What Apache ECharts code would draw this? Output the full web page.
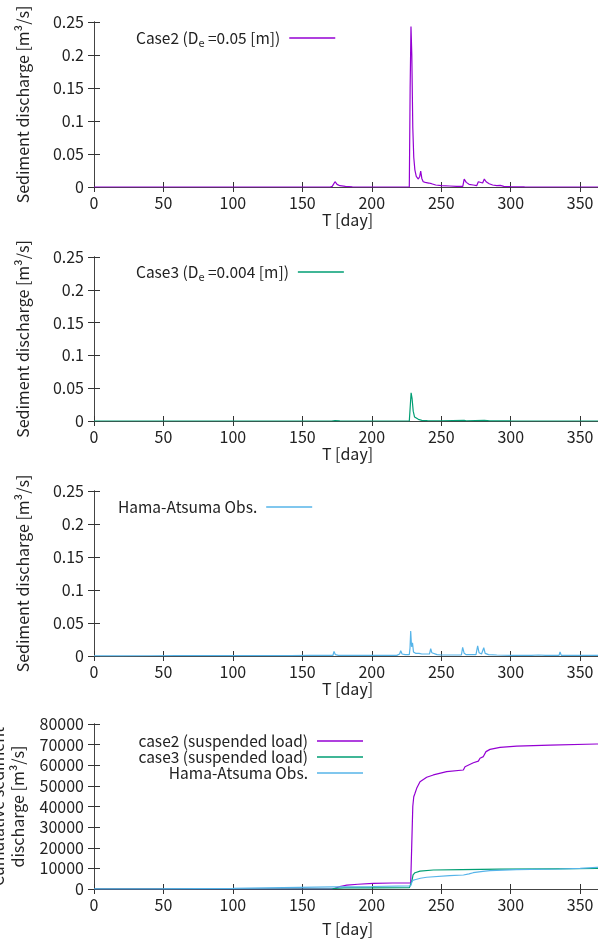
<!DOCTYPE html>
<html>
<head>
<meta charset="utf-8">
<script src="https://cdn.jsdelivr.net/npm/echarts@6/dist/echarts.min.js"></script>
<style>
  html, body { margin: 0; padding: 0; overflow: hidden; background: #fff; }
  #chart { width: 610px; height: 939px; }
</style>
</head>
<body>
<div id="chart"></div>
<script>
// sediment discharge [m3/s] vs day
var case2Flux = [
  [0, 0], [170, 0], [171.5, 0.001], [173.5, 0.008], [175, 0.004], [177, 0.002], [181, 0.001], [186, 0.0003],
  [227, 0], [227.6, 0.15], [228.2, 0.243], [228.8, 0.2], [229.5, 0.09], [230.2, 0.045], [231, 0.026],
  [232, 0.016], [233.5, 0.012], [234.5, 0.016], [235.2, 0.024], [236, 0.013], [237, 0.008], [238.5, 0.007],
  [239.5, 0.008], [241, 0.006], [243, 0.005], [246, 0.003], [250, 0.002], [256, 0.0015], [261, 0.001],
  [265.5, 0.001], [266.5, 0.012], [268, 0.007], [270, 0.004], [273, 0.003], [275.5, 0.002], [276.7, 0.008],
  [278, 0.005], [279.8, 0.006], [281, 0.012], [282.3, 0.008], [284.5, 0.005], [287, 0.003], [290, 0.002],
  [292.5, 0.0025], [295, 0.001], [300, 0.0005], [310, 0.0003], [365, 0]
];
var case3Flux = [
  [0, 0], [171, 0], [173.5, 0.0006], [177, 0.0002], [227, 0], [227.6, 0.02], [228.3, 0.043], [229, 0.034],
  [229.8, 0.015], [230.8, 0.006], [232, 0.003], [233.5, 0.0025], [236, 0.001], [240, 0.0007], [250, 0.0004],
  [266.5, 0.001], [268, 0.0004], [281, 0.001], [285, 0.0003], [300, 0.0001], [365, 0]
];
var obsFlux = [
  [0, 0.0003], [20, 0.0003], [40, 0.0004], [60, 0.0005], [80, 0.0005], [99, 0.0006], [100, 0.0015],
  [101, 0.0006], [120, 0.0006], [140, 0.0007], [141, 0.0015], [142, 0.0007], [155, 0.0008], [156, 0.0015],
  [157, 0.0008], [172, 0.0008], [172.8, 0.007], [173.8, 0.002], [176, 0.001], [200, 0.001], [218, 0.001],
  [219, 0.004], [220, 0.003], [220.8, 0.008], [221.8, 0.003], [224, 0.002], [227, 0.002], [227.5, 0.012],
  [228, 0.038], [228.6, 0.014], [229.3, 0.02], [230, 0.006], [231.5, 0.004], [234, 0.004], [235, 0.005],
  [236, 0.003], [241.5, 0.003], [242.4, 0.011], [243.2, 0.005], [243.8, 0.008], [244.6, 0.003], [247, 0.002],
  [250, 0.0015], [257, 0.0015], [258, 0.003], [259, 0.0015], [264.5, 0.0015], [265.4, 0.013], [266.5, 0.004],
  [268, 0.002], [275, 0.002], [276.2, 0.0155], [277.2, 0.005], [279, 0.003], [280, 0.003], [280.6, 0.0125],
  [281.6, 0.004], [284, 0.002], [290, 0.0015], [301, 0.001], [301.9, 0.004], [302.8, 0.001], [315, 0.001],
  [320, 0.0015], [325, 0.001], [334.8, 0.001], [335.5, 0.006], [336.4, 0.001], [345.5, 0.001], [346.3, 0.002],
  [347.2, 0.001], [355, 0.001], [365, 0.0008]
];
// cumulative sediment discharge
var case2Cum = [
  [0, 0], [172, 0], [173.5, 300], [177, 1200], [182, 1900], [190, 2300], [201, 2700], [215, 2900],
  [228, 3000], [228.7, 20000], [229.5, 40000], [230.2, 44700], [231.1, 46400], [232.3, 48800], [234.7, 52000],
  [239.5, 54200], [244.3, 55300], [253.9, 56900], [265.9, 57700], [267.1, 59300], [268.3, 60000],
  [273.1, 61200], [276.7, 62000], [277.9, 63400], [280.3, 64200], [282.2, 66600], [285.1, 67700],
  [292.3, 68700], [304.3, 69300], [328.3, 69800], [361.9, 70300], [365, 70300]
];
var case3Cum = [
  [0, 0], [171, 0], [173.5, 300], [180, 500], [200, 550], [227, 600], [228.2, 800], [228.9, 4000],
  [229.7, 6800], [231.1, 7900], [234.7, 8700], [244.3, 9200], [265, 9400], [292, 9650], [330, 9800],
  [362, 9950], [365, 9950]
];
var obsCum = [
  [0, 0], [50, 100], [100, 300], [148, 800], [172, 1000], [200, 1200], [228, 1500], [228.7, 3000],
  [229.5, 4200], [231, 4500], [235, 5200], [239.5, 5700], [256, 6500], [266, 6800], [270, 7300],
  [273, 7900], [280, 8500], [285, 8900], [304, 9400], [335, 9700], [350, 10000], [362, 10500], [365, 10600]
];

var seriesNames = [
  'Case2 (D{sub|e} =0.05 [m])',
  'Case3 (D{sub|e} =0.004 [m])',
  'Hama-Atsuma Obs.',
  'case2 (suspended load)',
  'case3 (suspended load)',
  'Hama-Atsuma Obs. '
];
var colors = ['#9400d3', '#009e73', '#56b4e9'];

var font = "'Noto Sans CJK JP', 'Noto Sans', sans-serif";
var panels = [
  { top: 22, height: 165, max: 0.25, interval: 0.05, name: 'Sediment discharge [m\u00b3/s]', nameGap: 61, xNameGap: 24 },
  { top: 257, height: 164, max: 0.25, interval: 0.05, name: 'Sediment discharge [m\u00b3/s]', nameGap: 61, xNameGap: 24 },
  { top: 491, height: 165, max: 0.25, interval: 0.05, name: 'Sediment discharge [m\u00b3/s]', nameGap: 61, xNameGap: 24 },
  { top: 724, height: 165, max: 80000, interval: 10000, name: 'Cumulative sediment\ndischarge [m\u00b3/s]', nameGap: 66, xNameGap: 32 }
];

var myChart = echarts.init(document.getElementById('chart'));

var grid = [], xAxis = [], yAxis = [], i;
var labelStyle = { fontFamily: font, fontSize: 16, color: '#222' };
var tickLine = { color: '#333', width: 1 };
for (i = 0; i < panels.length; i++) {
  var p = panels[i];
  grid.push({ left: 94, width: 507, top: p.top, height: p.height, outerBoundsMode: 'none', containLabel: false });
  xAxis.push({
    type: 'value', gridIndex: i, min: 0, max: 365, interval: 50,
    name: 'T [day]', nameLocation: 'middle', nameGap: p.xNameGap,
    nameTextStyle: labelStyle,
    axisLine: { show: true, lineStyle: { color: '#333' } },
    axisTick: { show: true, inside: true, length: 5, lineStyle: tickLine },
    axisLabel: { fontFamily: font, fontSize: 16, color: '#222', margin: 8, showMaxLabel: false },
    splitLine: { show: false }
  });
  yAxis.push({
    type: 'value', gridIndex: i, min: 0, max: p.max, interval: p.interval,
    name: p.name, nameLocation: 'middle', nameGap: p.nameGap,
    nameTextStyle: { fontFamily: font, fontSize: 16, color: '#222', lineHeight: 20 },
    axisLine: { show: true, lineStyle: { color: '#222' } },
    axisTick: { show: true, inside: true, length: 6, lineStyle: tickLine },
    axisLabel: {
      fontFamily: font, fontSize: 16, color: '#222', margin: 10,
      formatter: function (v) { return String(v); }
    },
    splitLine: { show: false }
  });
}
// mirrored ticks on top / right borders
for (i = 0; i < panels.length; i++) {
  xAxis.push({
    type: 'value', gridIndex: i, position: 'top', min: 0, max: 365, interval: 50,
    axisLine: { show: true, lineStyle: { color: '#444' } },
    axisTick: { show: true, inside: true, length: 5, lineStyle: tickLine },
    axisLabel: { show: false }, splitLine: { show: false }
  });
  yAxis.push({
    type: 'value', gridIndex: i, position: 'right', min: 0, max: panels[i].max, interval: panels[i].interval,
    axisLine: { show: true, lineStyle: { color: '#444' } },
    axisTick: { show: true, inside: true, length: 6, lineStyle: tickLine },
    axisLabel: { show: false }, splitLine: { show: false }
  });
}

function lineSeries(name, idx, data, color) {
  return {
    name: name, type: 'line', xAxisIndex: idx, yAxisIndex: idx,
    data: data, symbol: 'none', animation: false,
    lineStyle: { color: color, width: 1.2 }, itemStyle: { color: color }
  };
}
var series = [
  lineSeries(seriesNames[0], 0, case2Flux, colors[0]),
  lineSeries(seriesNames[1], 1, case3Flux, colors[1]),
  lineSeries(seriesNames[2], 2, obsFlux, colors[2]),
  lineSeries(seriesNames[3], 3, case2Cum, colors[0]),
  lineSeries(seriesNames[4], 3, case3Cum, colors[1]),
  lineSeries(seriesNames[5], 3, obsCum, colors[2])
];

var legendText = {
  fontFamily: font, fontSize: 15.5, color: '#222', lineHeight: 20, padding: [0, 4, 0, 0],
  rich: { sub: { fontFamily: font, fontSize: 11, lineHeight: 12, verticalAlign: 'bottom', color: '#222' } }
};
function legendAt(name, pos) {
  var l = {
    data: [name], align: 'right', orient: 'vertical', padding: 0,
    icon: 'rect', itemWidth: 46, itemHeight: 1.3, textStyle: legendText, selectedMode: false,
    formatter: function (n) { return n.trim(); }
  };
  for (var k in pos) l[k] = pos[k];
  return l;
}
var legend = [
  legendAt(seriesNames[0], { left: 136, top: 28 }),
  legendAt(seriesNames[1], { left: 136, top: 262 }),
  legendAt(seriesNames[2], { left: 118, top: 497 }),
  legendAt(seriesNames[3], { right: 247, top: 731 }),
  legendAt(seriesNames[4], { right: 247, top: 747 }),
  legendAt(seriesNames[5], { right: 247, top: 763 })
];

myChart.setOption({
  animation: false,
  grid: grid,
  xAxis: xAxis,
  yAxis: yAxis,
  legend: legend,
  series: series
});
</script>
</body>
</html>
